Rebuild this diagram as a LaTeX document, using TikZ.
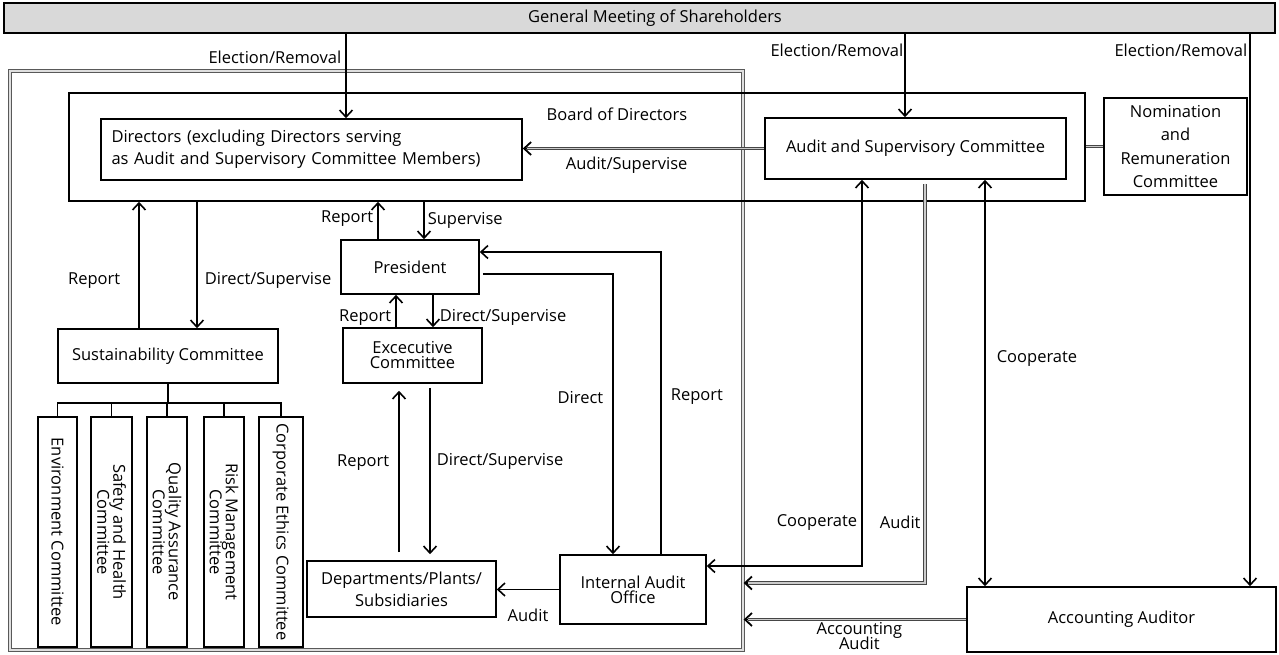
\documentclass[tikz,border=0pt]{standalone}
\usepackage{fontspec}
\setmainfont{Open Sans}
\usetikzlibrary{arrows.meta}

\newcommand{\orgfont}{\fontsize{16.5}{21}\selectfont}
\tikzset{
  box/.style={draw, line width=1.6pt, inner sep=0pt, align=center, font=\orgfont},
  vbox/.style={box, rotate=-90, minimum width=230},
  outerbox/.style={draw=gray!70!black, line width=1.3pt, double=gray!25, double distance=1.5pt, inner sep=0pt},
  dbl/.style={draw=gray!55!black, line width=1pt, double=gray!40, double distance=1.2pt},
  dblarr/.style={preaction={draw=black, line width=1.8pt, shorten >=0pt, ->}, dbl, shorten >=4pt},
  lbl/.style={inner sep=1pt, font=\orgfont}
}

\begin{document}
\begin{tikzpicture}[x=1pt, y=-1pt, line width=1.6pt, font=\orgfont,
                    >={Straight Barb[length=7pt,width=13pt]}]
  \useasboundingbox (0 , 0) rectangle (1279 , 654);
  \node[outerbox, minimum width=733, minimum height=579] (mgmt) at (376.5 , 360.5) {};
  \node[box, fill=gray!30, minimum width=1271, minimum height=30,
        label={[lbl, xshift=15.5pt]center:General Meeting of Shareholders}] (gms) at (639.5 , 18) {};
  \node[box, minimum width=1016, minimum height=108] (board) at (577 , 147) {};
  \node[lbl] (boardlbl) at (617 , 114) {Board of Directors};
  \node[box, minimum width=421, minimum height=61, text width=400, align=left] (dirs) at (311.5 , 149.5)
        {Directors (excluding Directors serving\\[1pt]as Audit and Supervisory Committee Members)};
  \node[box, minimum width=301, minimum height=61] (asc) at (915.5 , 148.5) {Audit and Supervisory Committee};
  \node[box, minimum width=143, minimum height=97] (nrc) at (1175.5 , 146.5)
        {Nomination\\[2.5pt]and\\[2.5pt]Remuneration\\[2.5pt]Committee};
  \node[box, minimum width=220, minimum height=54] (sust) at (168 , 356) {Sustainability Committee};
  \node[vbox, minimum height=39] (env) at (57.5 , 532) {Environment Committee};
  \node[vbox, minimum height=41] (safety) at (111.5 , 532) {Safety and Health\\[-5pt]Committee};
  \node[vbox, minimum height=40] (quality) at (167 , 532) {Quality Assurance\\[-5pt]Committee};
  \node[vbox, minimum height=40] (risk) at (224 , 532) {Risk Management\\[-5pt]Committee};
  \node[vbox, minimum height=44] (corp) at (281 , 532) {Corporate Ethics Committee};
  \node[box, minimum width=138, minimum height=54] (pres) at (410 , 267) {President};
  \node[box, minimum width=139, minimum height=55] (excom) at (412.5 , 355.5) {Excecutive\\[-6pt]Committee};
  \node[box, minimum width=189, minimum height=56] (dept) at (401.5 , 589) {Departments/Plants/\\[1pt]Subsidiaries};
  \node[box, minimum width=146, minimum height=69] (iao) at (633 , 589.5) {Internal Audit\\[-6pt]Office};
  \node[box, minimum width=309, minimum height=65] (acc) at (1121.5 , 619.5) {Accounting Auditor};

  \draw[->] (gms.south -| 346,0) -- node[lbl, pos=.28, left=3pt] {Election/Removal} (dirs.north -| 346,0);
  \draw[->] (gms.south -| 905,0) -- node[lbl, pos=.2, left=0pt] {Election/Removal} (asc.north -| 905,0);
  \draw[->] (gms.south -| 1250,0) -- node[lbl, pos=.03, left=1pt] {Election/Removal} (acc.north -| 1250,0);
  \draw[dblarr] (asc.west) -- node[lbl, pos=.57, below=7pt] {Audit/Supervise} (dirs.east |- asc.west);
  \draw[dbl] (board.east |- nrc.west) -- (nrc.west);

  \draw[->] (sust.north -| 139,0) -- node[lbl, pos=.38, left=17pt] {Report} (board.south -| 139,0);
  \draw[->] (board.south -| 197,0) -- node[lbl, pos=.625, right=6pt] {Direct/Supervise} (sust.north -| 197,0);
  \draw (sust.south) -- (sust.south |- 0,403);
  \draw (env.west) -- (env.west |- 0,403) -| (corp.west);
  \foreach \c in {safety, quality, risk}
    \draw (\c.west) -- (\c.west |- 0,403);

  \draw[->] (pres.north -| 378,0) -- node[lbl, pos=.56, left=3pt] {Report} (board.south -| 378,0);
  \draw[->] (board.south -| 424,0) -- node[lbl, pos=.49, right=2pt] {Supervise} (pres.north -| 424,0);
  \draw[->] (excom.north -| 396,0) -- node[lbl, pos=.3, left=3pt] {Report} (pres.south -| 396,0);
  \draw[->] (pres.south -| 433,0) -- node[lbl, pos=.7, right=5pt] {Direct/Supervise} (excom.north -| 433,0);
  \draw[->, shorten <=8pt, shorten >=7pt] (dept.north -| 399,0) -- node[lbl, pos=.556, left=8pt] {Report} (excom.south -| 399,0);
  \draw[->, shorten <=4pt, shorten >=6pt] (excom.south -| 430,0) -- node[lbl, pos=.44, right=5pt] {Direct/Supervise} (dept.north -| 430,0);
  \draw[->] (iao.west) -- node[lbl, below=18pt] {Audit} (dept.east |- iao.west);
  \draw[->, shorten <=3pt] (pres.east |- 0,274) -| node[lbl, pos=.72, left=8pt] {Direct} (iao.north -| 613,0);
  \draw[->] (iao.north -| 661,0) |- node[lbl, pos=.26, right=8pt] {Report} (pres.east |- 0,252);

  \draw[<->] (iao.east |- 0,566) -| node[lbl, pos=.556, left=3pt] {Cooperate} (asc.south -| 862,0);
  \draw[dblarr, shorten <=4pt] (asc.south -| 925,0) |- node[lbl, pos=.425, left=3pt] {Audit} (mgmt.east |- 0,583);
  \draw[<->] (asc.south -| 985,0) -- node[lbl, pos=.44, right=10pt] {Cooperate} (acc.north -| 985,0);
  \draw[dblarr] (acc.west) -- node[lbl, pos=.48, below=1pt, align=center] {Accounting\\[-6pt]Audit} (mgmt.east |- acc.west);
\end{tikzpicture}
\end{document}
